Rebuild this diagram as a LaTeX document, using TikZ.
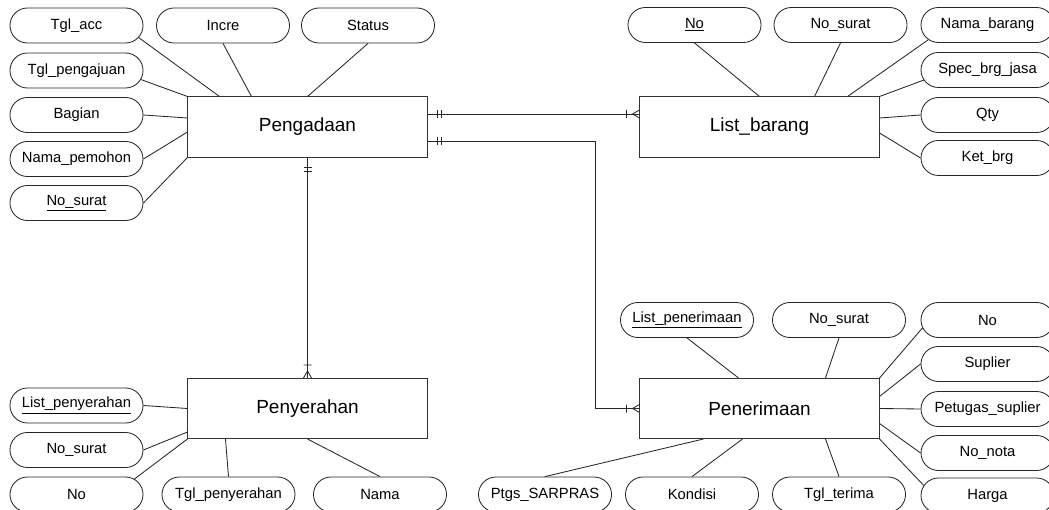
\documentclass[tikz,border=0pt]{standalone}
\usepackage{fontspec}
\setmainfont{Liberation Sans}
\usetikzlibrary{shapes.misc,calc}

\begin{document}
\begin{tikzpicture}[x=0.025cm,y=-0.025cm,
	entitas/.style={draw=black!80, line width=0.7pt, minimum width=5.975cm, minimum height=1.5cm, font=\fontsize{13.5}{16}\selectfont},
	atribut/.style={draw=black!85, line width=0.6pt, rounded rectangle, minimum width=3.325cm, minimum height=0.875cm, inner sep=0pt, font=\fontsize{10.5}{12}\selectfont},
	garis/.style={black!85, line width=0.6pt},
	satu/.pic={\draw[garis] (10,-4)--(10,4) (14,-4)--(14,4);},
	banyak/.pic={\draw[garis] (0,-4)--(7,0)--(0,4) (13,-4)--(13,4);}]
	\useasboundingbox (0,0) rectangle (1049,510);

%entitas
	\node[entitas] (pgd) at (307.5,127) {Pengadaan};
	\node[entitas] (lb) at (759.5,127) {List\_barang};
	\node[entitas] (pyr) at (307.5,408.5) {Penyerahan};
	\node[entitas] (pnr) at (759.5,408.5) {Penerimaan};

%atribut Pengadaan
	\node[atribut] (tglacc) at (76.5,25.5) {Tgl\_acc};
	\node[atribut] (incre) at (223,25.5) {Incre};
	\node[atribut] (status) at (368,25.5) {Status};
	\node[atribut] (tglaju) at (76.5,70.5) {Tgl\_pengajuan};
	\node[atribut] (bagian) at (76.5,115) {Bagian};
	\node[atribut] (nmpemohon) at (76.5,159) {Nama\_pemohon};
	\node[atribut] (nosuratA) at (76.5,203) {\underline{No\_surat}};
	%
	\draw[garis] (tglacc.-11) -- ($(pgd.north west)+(32,0)$);
	\draw[garis] (incre.south) -- ($(pgd.north west)+(64,0)$);
	\draw[garis] (status.south) -- (pgd.north);
	\draw[garis] (tglaju.-8) -- (pgd.north west);
	\draw[garis] (bagian.east) -- ($(pgd.west)+(0,-9)$);
	\draw[garis] (nmpemohon.east) -- ($(pgd.west)+(0,5)$);
	\draw[garis] (nosuratA.east) -- (pgd.south west);

%atribut List_barang
	\node[atribut] (noB) at (694.5,25) {\underline{No}};
	\node[atribut] (nosuratB) at (840.5,25) {No\_surat};
	\node[atribut] (nmbarang) at (987.5,25) {Nama\_barang};
	\node[atribut] (spec) at (987.5,70) {Spec\_brg\_jasa};
	\node[atribut] (qty) at (987.5,115) {Qty};
	\node[atribut] (ketbrg) at (987.5,158) {Ket\_brg};
	%
	\draw[garis] (noB.south) -- (lb.north);
	\draw[garis] (nosuratB.south) -- ($(lb.north)+(55,0)$);
	\draw[garis] (nmbarang.194) -- ($(lb.north east)+(-32,0)$);
	\draw[garis] (spec.189) -- (lb.north east);
	\draw[garis] (qty.west) -- ($(lb.east)+(0,-9)$);
	\draw[garis] (ketbrg.west) -- ($(lb.east)+(0,6)$);

%atribut Penyerahan
	\node[atribut] (lpyr) at (76.5,405.5) {\underline{List\_penyerahan}};
	\node[atribut] (nosuratC) at (76.5,450) {No\_surat};
	\node[atribut] (noC) at (76.5,494.5) {No};
	\node[atribut] (tglpyr) at (228.5,494.5) {Tgl\_penyerahan};
	\node[atribut] (nama) at (380,494.5) {Nama};
	%
	\draw[garis] (lpyr.east) -- (pyr.west);
	\draw[garis] (nosuratC.east) -- ($(pyr.south west)+(0,-7)$);
	\draw[garis] (noC.15) -- (pyr.south west);
	\draw[garis] (tglpyr.north) -- ($(pyr.south west)+(38,0)$);
	\draw[garis] (nama.north) -- (pyr.south);

%atribut Penerimaan
	\node[atribut] (lpnr) at (687,320) {\underline{List\_penerimaan}};
	\node[atribut] (nosuratD) at (839,320) {No\_surat};
	\node[atribut] (noD) at (987.5,320) {No};
	\node[atribut] (suplier) at (987.5,364) {Suplier};
	\node[atribut] (ptgsup) at (987.5,409) {Petugas\_suplier};
	\node[atribut] (nonota) at (987.5,453) {No\_nota};
	\node[atribut] (harga) at (987.5,495.5) {Harga};
	\node[atribut] (ptgssar) at (545,494.5) {Ptgs\_SARPRAS};
	\node[atribut] (kondisi) at (692,494.5) {Kondisi};
	\node[atribut] (tglterima) at (839,494.5) {Tgl\_terima};
	%
	\draw[garis] (lpnr.south) -- ($(pnr.north)+(-21,0)$);
	\draw[garis] (nosuratD.south) -- ($(pnr.north)+(66,0)$);
	\draw[garis] (noD.187) -- (pnr.north east);
	\draw[garis] (suplier.west) -- ($(pnr.east)+(0,-12)$);
	\draw[garis] (ptgsup.west) -- (pnr.east);
	\draw[garis] (nonota.west) -- ($(pnr.east)+(0,15)$);
	\draw[garis] (harga.171) -- (pnr.south east);
	\draw[garis] (ptgssar.north) -- ($(pnr.south west)+(64,0)$);
	\draw[garis] (kondisi.north) -- ($(pnr.south west)+(103,0)$);
	\draw[garis] (tglterima.north) -- ($(pnr.south)+(66,0)$);

%relasi
	\draw[garis] ($(pgd.east)+(0,-13)$) -- ($(lb.west)+(0,-13)$);
	\draw[garis] ($(pgd.east)+(0,14)$) -| ($(pnr.west)+(-44,0)$) -- (pnr.west);
	\draw[garis] (pgd.south) -- (pyr.north);
	%kardinalitas
	\pic at ($(pgd.east)+(0,-13)$) {satu};
	\pic at ($(pgd.east)+(0,14)$) {satu};
	\pic[rotate=-90] at (pgd.south) {satu};
	\pic[rotate=180] at ($(lb.west)+(0,-13)$) {banyak};
	\pic[rotate=180] at (pnr.west) {banyak};
	\pic[rotate=90] at (pyr.north) {banyak};
\end{tikzpicture}
\end{document}
